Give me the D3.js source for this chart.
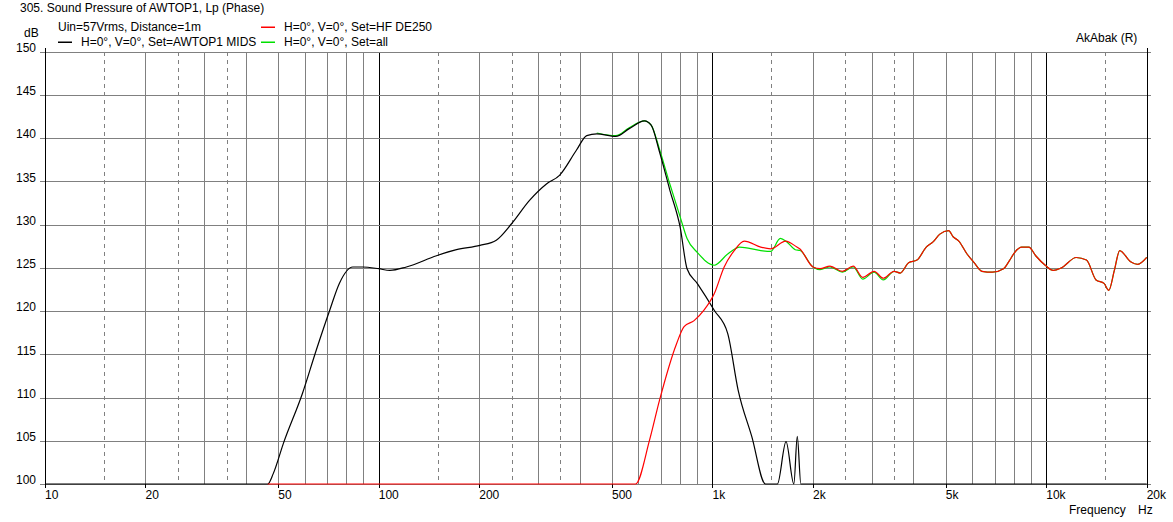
<!DOCTYPE html>
<html><head><meta charset="utf-8">
<script src="https://cdn.jsdelivr.net/npm/d3@7/dist/d3.min.js"></script>
<style>body{margin:0;background:#fff}text{font-family:"Liberation Sans",Arial,sans-serif;font-size:12px;fill:#000}</style>
</head><body>
<script>
const yTicks=[100,105,110,115,120,125,130,135,140,145,150];
const xTickLabels=[[10,"10"],[20,"20"],[50,"50"],[100,"100"],[200,"200"],[500,"500"],[1000,"1k"],[2000,"2k"],[5000,"5k"],[10000,"10k"],[20000,"20k"]];
const midsF=[10,46.5,48.3,51.8,59.1,65,71.3,76.2,83.6,89.4,100,108,121,149,171,201,225,250,283,318,348,391,420,450,513,563,625,655,694,745,800,839,900,1012,1111,1193,1311,1441,1565,1661,1753,1795,1840,20000];
const midsDb=[100,100,101.2,104.7,110.5,115.5,120.1,123.2,125.1,125.1,124.9,124.7,125.1,126.4,127.1,127.6,128.2,130.1,132.8,134.7,135.7,138.6,140.3,140.5,140.2,141.1,142.0,141.5,138.4,134,129.7,124.9,123.2,120.1,117.4,110.9,105.5,100,100,104.9,100,105.5,100,100];
const hfF=[46.5,588,648,694,780,822,881,943,1012,1084,1162,1245,1395,1494,1657,1790,1825,2000,2100,2250,2450,2640,2820,3050,3250,3500,3650,3870,4100,4370,4580,4800,5100,5260,5470,5790,6080,6420,6900,7450,7750,8050,8430,8870,9300,9930,10500,11100,12300,13200,14100,14900,15400,16000,16600,17900,18800,20000];
const hfDb=[100,100,105.1,109.7,116.2,118.2,118.9,120.1,122,125.1,127,128.1,127.4,127.2,128.1,127.4,127.2,125.1,124.9,125.2,124.6,125.2,123.9,124.6,123.8,124.6,124.4,125.6,125.9,127.4,128.0,128.9,129.3,128.6,128.1,126.6,125.6,124.6,124.5,124.9,125.8,126.8,127.4,127.4,126.4,125.3,124.7,125.0,126.2,125.9,123.6,123.2,122.4,124.7,127,125.7,125.4,126.2];
const allF=[450,513,563,625,655,694,745,800,839,900,1012,1111,1206,1395,1494,1597,1670,1770,1830,2000,2100,2250,2450,2640,2820,3050,3250,3500,3650,3870,4100,4370,4580,4800,5100,5260,5470,5790,6080,6420,6900,7450,7750,8050,8430,8870,9300,9930,10500,11100,12300,13200,14100,14900,15400,16000,16600,17900,18800,20000];
const allDb=[140.6,140.3,141.2,142.0,141.5,138.7,134.7,130.9,128.4,126.8,125.3,126.6,127.4,127,126.9,128.4,128,127.1,127,125.1,124.8,125.1,124.5,125.1,123.7,124.5,123.6,124.6,124.4,125.6,125.9,127.4,128.0,128.9,129.3,128.6,128.1,126.6,125.6,124.6,124.5,124.9,125.8,126.8,127.4,127.4,126.4,125.3,124.7,125.0,126.2,125.9,123.6,123.2,122.4,124.7,127,125.7,125.4,126.2];

const W=1173,H=522,L=45,R=1146.7,T=51.7,B=484;
const x=d3.scaleLog().domain([10,20000]).range([L,R]);
const y=d3.scaleLinear().domain([100,150]).range([B,T]);
const svg=d3.select("body").append("svg").attr("width",W).attr("height",H);
const g=svg.append("g").attr("shape-rendering","crispEdges");
const grid=[];
[10,100,1000,10000].forEach(d=>{[1,1.5,2,2.5,3,3.5,4,5,6,7,8,9].forEach(m=>{const f=d*m;if(f>10&&f<20000)grid.push({f,m});});});
grid.forEach(o=>{
  const major=o.m===1;
  g.append("line").attr("x1",Math.round(x(o.f))+0.5).attr("x2",Math.round(x(o.f))+0.5).attr("y1",T).attr("y2",B)
   .attr("stroke",major?"#000":"#808080").attr("stroke-dasharray",(o.m===1.5||o.m===2.5||o.m===3.5)?"4,4":null);
});
yTicks.forEach(v=>{
  g.append("line").attr("x1",L-5).attr("x2",R+4).attr("y1",Math.round(y(v))+0.5).attr("y2",Math.round(y(v))+0.5).attr("stroke","#808080");
  svg.append("text").attr("x",36).attr("y",y(v)-4).attr("dy","0.35em").attr("text-anchor","end").text(v);
});
[10,20000].forEach(f=>g.append("line").attr("x1",Math.round(x(f))+0.5).attr("x2",Math.round(x(f))+0.5).attr("y1",T-4).attr("y2",B).attr("stroke","#000"));
xTickLabels.forEach(([f,t])=>{
  g.append("line").attr("x1",Math.round(x(f))+0.5).attr("x2",Math.round(x(f))+0.5).attr("y1",B).attr("y2",B+4).attr("stroke","#000");
  svg.append("text").attr("x",x(f)).attr("y",499).text(t);
});
const line=d3.line().x(d=>x(d[0])).y(d=>y(d[1])).curve(d3.curveMonotoneX);
const zip=(a,b)=>a.map((v,i)=>[v,b[i]]);
svg.append("path").attr("d",line(zip(allF,allDb))).attr("fill","none").attr("stroke","#00e000").attr("stroke-width",1.2);
svg.append("path").attr("d",line(zip(midsF,midsDb))).attr("fill","none").attr("stroke","#000").attr("stroke-width",1.2);
svg.append("path").attr("d",line(zip(hfF,hfDb))).attr("fill","none").attr("stroke","#ff0000").attr("stroke-width",1.2);
svg.append("text").attr("x",20).attr("y",12).text("305. Sound Pressure of AWTOP1, Lp (Phase)");
svg.append("text").attr("x",58).attr("y",31).text("Uin=57Vrms, Distance=1m");
svg.append("text").attr("x",24).attr("y",37).text("dB");
const leg=[[58,42,"#000","H=0°, V=0°, Set=AWTOP1 MIDS"],[261,27,"#ff0000","H=0°, V=0°, Set=HF DE250"],[261,42,"#00e000","H=0°, V=0°, Set=all"]];
leg.forEach(([lx,ly,c,t])=>{
  svg.append("rect").attr("x",lx).attr("y",ly-0.5).attr("width",14).attr("height",1.5).attr("fill",c);
  svg.append("text").attr("x",lx+23).attr("y",ly+4).text(t);
});
svg.append("text").attr("x",1076).attr("y",42).text("AkAbak (R)");
svg.append("text").attr("x",1069).attr("y",514).text("Frequency");
svg.append("text").attr("x",1138).attr("y",514).text("Hz");
</script></body></html>
